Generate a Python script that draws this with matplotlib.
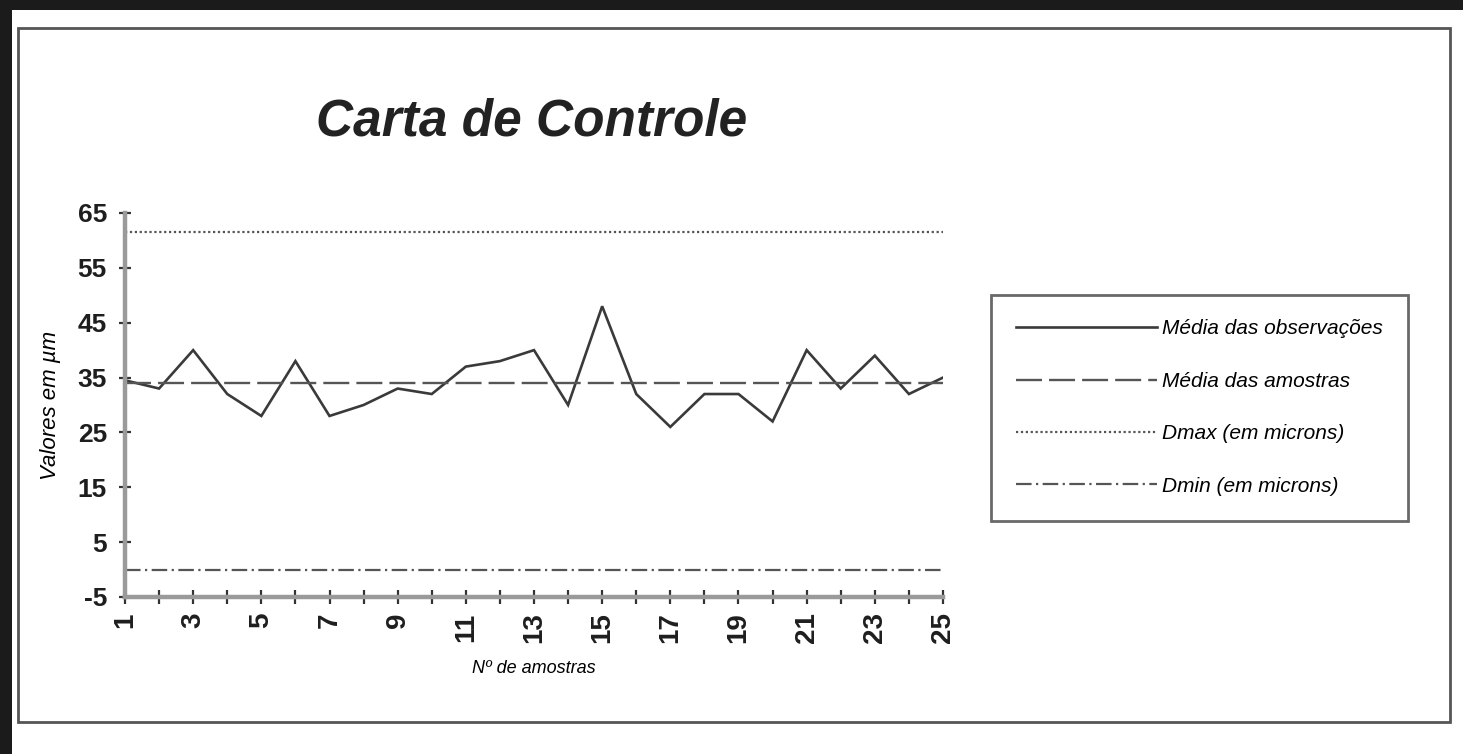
import matplotlib
matplotlib.use("Agg")
import matplotlib.pyplot as plt
from matplotlib.patches import Rectangle

plt.rcParams['font.family'] = ['Liberation Sans', 'DejaVu Sans']
plt.rcParams['axes.unicode_minus'] = False

# ---- data ----
samples = list(range(1, 26))
obs_mean = [34.5, 33, 40, 32, 28, 38, 28, 30, 33, 32, 37, 38, 40,
            30, 48, 32, 26, 32, 32, 27, 40, 33, 39, 32, 35]
sample_mean = 34
dmax = 61.6
dmin = 0
y_ticks = [-5, 5, 15, 25, 35, 45, 55, 65]
x_tick_labels = [str(s) if s % 2 == 1 else '' for s in samples]

title = 'Carta de Controle'
xlabel = 'Nº de amostras'
ylabel = 'Valores em µm'
legend_labels = ['Média das observações', 'Média das amostras',
                 'Dmax (em microns)', 'Dmin (em microns)']

W, H = 1463, 754
fig = plt.figure(figsize=(W / 100, H / 100), dpi=100)
fig.patch.set_facecolor('white')

# scanned-photo dark bands and outer frame
dark = '#1b1b1b'
fig.add_artist(Rectangle((0, 1 - 10 / H), 1, 10 / H, transform=fig.transFigure,
                         facecolor=dark, edgecolor='none', zorder=0))
fig.add_artist(Rectangle((0, 0), 12 / W, 1, transform=fig.transFigure,
                         facecolor=dark, edgecolor='none', zorder=0))
fig.add_artist(Rectangle((18 / W, 1 - 722 / H), (1450 - 18) / W, (722 - 28) / H,
                         transform=fig.transFigure, facecolor='none',
                         edgecolor='#555555', linewidth=2.0, zorder=1))

ax = fig.add_axes([125 / W, 1 - 597 / H, (943 - 125) / W, (597 - 213) / H])
ax.set_facecolor('none')

l1, = ax.plot(samples, obs_mean, color='#3a3a3a', linewidth=1.9,
              solid_joinstyle='miter')
l2, = ax.plot(samples, [sample_mean] * len(samples), color='#555555',
              linewidth=1.7, linestyle=(0, (11, 3)))
l3, = ax.plot(samples, [dmax] * len(samples), color='#555555',
              linewidth=1.6, linestyle=(0, (1, 1.2)))
l4, = ax.plot(samples, [dmin] * len(samples), color='#555555',
              linewidth=1.6, linestyle=(0, (7, 2, 1, 2)))

ax.set_xlim(1, 25)
ax.set_ylim(-5, 65)
ax.set_yticks(y_ticks)
ax.set_xticks(samples)
ax.set_xticklabels(x_tick_labels, rotation=90)

for s in ['top', 'right']:
    ax.spines[s].set_visible(False)
for s in ['left', 'bottom']:
    ax.spines[s].set_color('#9a9a9a')
    ax.spines[s].set_linewidth(3.2)

ax.tick_params(axis='y', direction='inout', length=8, width=1.6, color='#333333',
               labelsize=19, pad=9)
ax.tick_params(axis='x', direction='inout', length=10, width=1.6, color='#333333',
               labelsize=20, pad=6)
for lab in ax.get_xticklabels() + ax.get_yticklabels():
    lab.set_fontweight('bold')
    lab.set_color('#1e1e1e')

ax.set_xlabel(xlabel, fontsize=13, style='italic', labelpad=12)
ax.set_ylabel(ylabel, fontsize=16, style='italic', labelpad=12)

fig.text(532 / W, 1 - 135 / H, title, fontsize=37, fontweight='bold',
         style='italic', ha='center', va='baseline', color='#222222')

leg = fig.legend([l1, l2, l3, l4], legend_labels, loc='center',
                 bbox_to_anchor=(1199.5 / W, 1 - 407.5 / H),
                 prop={'style': 'italic', 'size': 15},
                 handlelength=6.8, handletextpad=0.25, labelspacing=1.6,
                 borderpad=1.2, frameon=True, fancybox=False, shadow=False)
leg.get_frame().set_edgecolor('#444444')
leg.get_frame().set_linewidth(2.0)

fig.savefig('out.png', dpi=100)
